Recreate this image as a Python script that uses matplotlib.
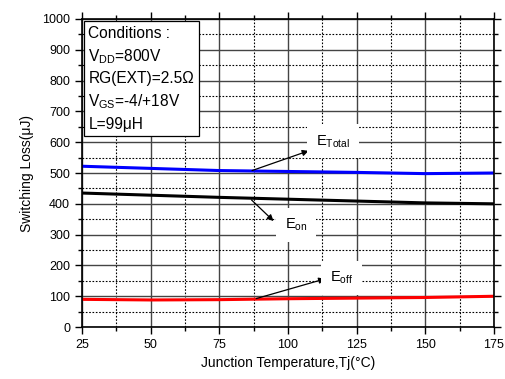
import matplotlib
matplotlib.use("Agg")
import matplotlib.pyplot as plt
import matplotlib.ticker as ticker

plt.rcParams["font.family"] = ["Liberation Sans", "DejaVu Sans"]

tj = [25, 50, 75, 100, 125, 150, 175]
e_total = [522, 515, 508, 505, 502, 498, 500]
e_on = [435, 428, 421, 415, 409, 403, 400]
e_off = [90, 88, 89, 92, 94, 96, 100]

fig = plt.figure(figsize=(5.06, 3.79), dpi=100)
ax = fig.add_axes([0.162, 0.137, 0.814, 0.813])

ax.plot(tj, e_total, color="#0000ff", lw=2.2)
ax.plot(tj, e_on, color="black", lw=2.2)
ax.plot(tj, e_off, color="#ff0000", lw=2.2)

ax.set_xlim(25, 175)
ax.set_ylim(0, 1000)
ax.xaxis.set_major_locator(ticker.MultipleLocator(25))
ax.xaxis.set_minor_locator(ticker.MultipleLocator(12.5))
ax.yaxis.set_major_locator(ticker.MultipleLocator(100))
ax.yaxis.set_minor_locator(ticker.MultipleLocator(50))
ax.grid(which="major", color="#444444", lw=1.0, ls="-")
ax.grid(which="minor", color="black", lw=0.8, ls=(0, (1.5, 1.5)))
ax.set_axisbelow(True)
ax.tick_params(which="both", direction="out", labelsize=9, width=1, top=True, right=True)
ax.tick_params(which="major", length=5)
ax.tick_params(which="minor", length=3)
for s in ax.spines.values():
    s.set_linewidth(1.2)

ax.set_xlabel("Junction Temperature,Tj(°C)", fontsize=10, labelpad=4)
ax.set_ylabel("Switching Loss(μJ)", fontsize=10, labelpad=6)

arrow = dict(arrowstyle="-|>", color="black", lw=0.9, mutation_scale=9)
box = dict(boxstyle="square,pad=0.6", fc="white", ec="none")
ax.annotate("", xy=(108.5, 575), xytext=(86, 505), arrowprops=arrow)
ax.annotate("", xy=(95.5, 338), xytext=(86, 419), arrowprops=arrow)
ax.annotate("", xy=(114.5, 159), xytext=(87.5, 90), arrowprops=arrow)
ax.text(116.5, 603, "E$_{\\mathregular{Total}}$", fontsize=10.5, ha="center", va="center", bbox=box)
ax.text(103, 331, "E$_{\\mathregular{on}}$", fontsize=10.5, ha="center", va="center", bbox=box)
ax.text(119.5, 160, "E$_{\\mathregular{off}}$", fontsize=10.5, ha="center", va="center", bbox=box)

cond = ("Conditions :\nV$_{\\mathregular{DD}}$=800V\nRG(EXT)=2.5Ω\n"
        "V$_{\\mathregular{GS}}$=-4/+18V\nL=99μH")
ax.text(27.3, 978, cond, fontsize=11.2, ha="left", va="top", linespacing=1.45,
        bbox=dict(boxstyle="square,pad=0.3", fc="white", ec="black", lw=0.9))

fig.savefig("out.png", dpi=100)
